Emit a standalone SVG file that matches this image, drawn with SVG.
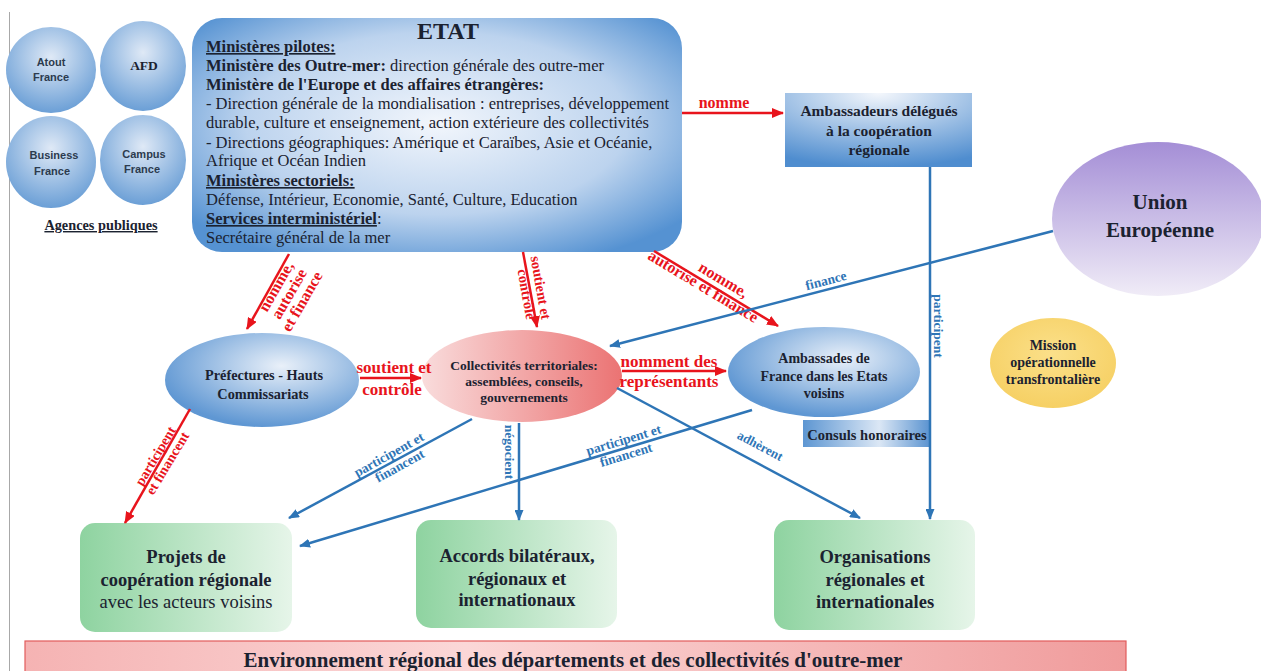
<svg xmlns="http://www.w3.org/2000/svg" width="1261" height="671" viewBox="0 0 1261 671">
<defs>
<style>
.serif{font-family:"Liberation Serif","Times New Roman",serif}
.b{font-weight:bold}
.dark{fill:#1b2230}
.sans{font-family:"Liberation Sans",Arial,sans-serif;font-weight:bold;fill:#2c3b4e;font-size:11px}
.rl{font-family:"Liberation Serif",serif;font-weight:bold;fill:#e8141c}
.bl{font-family:"Liberation Serif",serif;font-weight:bold;fill:#2e75b6}
.cr{stroke:#e8141c;stroke-width:2.5;fill:none;marker-end:url(#ar)}
.cb{stroke:#2e75b6;stroke-width:2.5;fill:none;marker-end:url(#ab)}
.mid{text-anchor:middle}
</style>
<marker id="ar" markerUnits="userSpaceOnUse" markerWidth="12" markerHeight="10" viewBox="0 0 12 10" refX="11" refY="5" orient="auto"><path d="M0,0 L12,5 L0,10 z" fill="#e8141c"/></marker>
<marker id="ab" markerUnits="userSpaceOnUse" markerWidth="11" markerHeight="9" viewBox="0 0 11 9" refX="10" refY="4.5" orient="auto"><path d="M0,0 L11,4.5 L0,9 z" fill="#2e75b6"/></marker>
<radialGradient id="gEtat" cx="50%" cy="45%" r="65%"><stop offset="0" stop-color="#f2f6fc"/><stop offset="0.6" stop-color="#bcd3ee"/><stop offset="1" stop-color="#5592d2"/></radialGradient>
<radialGradient id="gCirc" cx="50%" cy="35%" r="65%"><stop offset="0" stop-color="#dfe9f6"/><stop offset="1" stop-color="#6b9fd6"/></radialGradient>
<radialGradient id="gEll" cx="60%" cy="35%" r="65%"><stop offset="0" stop-color="#e9f0f9"/><stop offset="1" stop-color="#5f97d3"/></radialGradient>
<radialGradient id="gRect" cx="50%" cy="0%" r="100%"><stop offset="0" stop-color="#f4f7fc"/><stop offset="1" stop-color="#4f8dcf"/></radialGradient>
<linearGradient id="gCons" x1="0" y1="0" x2="1" y2="0"><stop offset="0" stop-color="#5d96d2"/><stop offset="0.6" stop-color="#dbe7f5"/><stop offset="1" stop-color="#5a93d0"/></linearGradient>
<linearGradient id="gPink" x1="0" y1="0" x2="1" y2="0"><stop offset="0" stop-color="#f9dcdc"/><stop offset="1" stop-color="#eb7373"/></linearGradient>
<linearGradient id="gUE" x1="0" y1="0" x2="0" y2="1"><stop offset="0" stop-color="#a48ed6"/><stop offset="1" stop-color="#f0ecf7"/></linearGradient>
<radialGradient id="gMis" cx="50%" cy="40%" r="60%"><stop offset="0" stop-color="#fbe08a"/><stop offset="1" stop-color="#f6d064"/></radialGradient>
<linearGradient id="gGreen" x1="0" y1="0" x2="1" y2="0"><stop offset="0" stop-color="#8ed3a0"/><stop offset="1" stop-color="#e6f5e9"/></linearGradient>
<linearGradient id="gBan" x1="0" y1="0" x2="1" y2="0"><stop offset="0" stop-color="#f5b3b3"/><stop offset="0.4" stop-color="#fbd7d7"/><stop offset="1" stop-color="#f09c9c"/></linearGradient>
</defs>
<rect width="1261" height="671" fill="#ffffff"/>
<line x1="9.5" y1="12" x2="9.5" y2="671" stroke="#a8a8a8" stroke-width="1"/>

<g id="agences">
<g id="atout"><ellipse cx="51" cy="70" rx="45" ry="43" fill="url(#gCirc)"/><text class="sans mid" x="51" y="66">Atout</text><text class="sans mid" x="51" y="81">France</text></g>
<g id="afd"><ellipse cx="143" cy="66" rx="43" ry="45" fill="url(#gCirc)"/><text class="serif b dark mid" x="144" y="70" font-size="13.5">AFD</text></g>
<g id="business"><ellipse cx="51" cy="162" rx="45" ry="46" fill="url(#gCirc)"/><text class="sans mid" x="54" y="159">Business</text><text class="sans mid" x="52" y="175">France</text></g>
<g id="campus"><ellipse cx="143" cy="160" rx="43" ry="45" fill="url(#gCirc)"/><text class="sans mid" x="144" y="158">Campus</text><text class="sans mid" x="142" y="173">France</text></g>
<text class="serif b dark mid" x="101" y="230" font-size="14.3" text-decoration="underline">Agences publiques</text>
</g>

<g id="etat">
<rect x="192" y="18" width="490" height="234" rx="30" fill="url(#gEtat)"/>
<text class="serif b dark mid" x="448" y="39" font-size="24">ETAT</text>
<g class="serif dark" font-size="16.5">
<text x="206" y="52" class="b" text-decoration="underline">Ministères pilotes:</text>
<text x="206" y="71"><tspan class="b">Ministère des Outre-mer:</tspan> direction générale des outre-mer</text>
<text x="206" y="90" class="b">Ministère de l'Europe et des affaires étrangères:</text>
<text x="206" y="109">- Direction générale de la mondialisation : entreprises, développement</text>
<text x="206" y="128">durable, culture et enseignement, action extérieure des collectivités</text>
<text x="206" y="148">- Directions géographiques: Amérique et Caraïbes, Asie et Océanie,</text>
<text x="206" y="166">Afrique et Océan Indien</text>
<text x="206" y="186" class="b" text-decoration="underline">Ministères sectoriels:</text>
<text x="206" y="205">Défense, Intérieur, Economie, Santé, Culture, Education</text>
<text x="206" y="224"><tspan class="b" text-decoration="underline">Services interministériel</tspan>:</text>
<text x="206" y="243">Secrétaire général de la mer</text>
</g>
</g>

<g id="ambassadeurs">
<rect x="785" y="93" width="187" height="74" fill="url(#gRect)"/>
<g class="serif b dark mid" font-size="15.5"><text x="879" y="116">Ambassadeurs délégués</text><text x="879" y="136">à la coopération</text><text x="879" y="155">régionale</text></g>
</g>

<g id="ue">
<ellipse cx="1158" cy="219" rx="106" ry="77" fill="url(#gUE)"/>
<g class="serif b dark mid" font-size="21"><text x="1160" y="209">Union</text><text x="1160" y="237">Européenne</text></g>
</g>

<g id="mission">
<ellipse cx="1053" cy="363" rx="63" ry="45" fill="url(#gMis)"/>
<g class="serif b dark mid" font-size="14"><text x="1053" y="350">Mission</text><text x="1053" y="367">opérationnelle</text><text x="1053" y="384">transfrontalière</text></g>
</g>

<g id="prefectures">
<ellipse cx="262" cy="380" rx="97" ry="47" fill="url(#gEll)"/>
<g class="serif b dark mid" font-size="14.3"><text x="264" y="380">Préfectures - Hauts</text><text x="263" y="399">Commissariats</text></g>
</g>

<g id="collectivites">
<ellipse cx="522" cy="376" rx="100" ry="46" fill="url(#gPink)"/>
<g class="serif b dark mid" font-size="13.5"><text x="524" y="370">Collectivités territoriales:</text><text x="524" y="386">assemblées, conseils,</text><text x="524" y="402">gouvernements</text></g>
</g>

<g id="ambassades">
<ellipse cx="824" cy="372" rx="96" ry="45" fill="url(#gEll)"/>
<g class="serif b dark mid" font-size="14"><text x="824" y="363">Ambassades  de</text><text x="824" y="381">France dans les Etats</text><text x="824" y="398">voisins</text></g>
</g>

<g id="consuls">
<rect x="803" y="420" width="127" height="27" fill="url(#gCons)"/>
<text class="serif b dark mid" x="867" y="440" font-size="14.5">Consuls honoraires</text>
</g>

<g id="projets">
<rect x="80" y="523" width="212" height="109" rx="15" fill="url(#gGreen)"/>
<g class="serif dark mid" font-size="18.5"><text class="b" x="186" y="563">Projets de</text><text class="b" x="186" y="586">coopération régionale</text><text x="186" y="608">avec les acteurs voisins</text></g>
</g>

<g id="accords">
<rect x="416" y="520" width="201" height="108" rx="15" fill="url(#gGreen)"/>
<g class="serif b dark mid" font-size="18.5"><text x="517" y="562">Accords bilatéraux,</text><text x="517" y="585">régionaux et</text><text x="517" y="606">internationaux</text></g>
</g>

<g id="organisations">
<rect x="774" y="520" width="201" height="110" rx="15" fill="url(#gGreen)"/>
<g class="serif b dark mid" font-size="18.5"><text x="875" y="563">Organisations</text><text x="875" y="586">régionales et</text><text x="875" y="608">internationales</text></g>
</g>

<g id="environnement">
<rect x="25" y="641" width="1101" height="40" fill="url(#gBan)" stroke="#e25c5c" stroke-width="1.2"/>
<text class="serif b dark mid" x="573" y="667" font-size="21">Environnement régional des départements et des collectivités d'outre-mer</text>
</g>

<g id="connectors">
<line class="cr" x1="682" y1="113" x2="783" y2="113"/>
<text class="rl mid" x="724" y="108" font-size="16">nomme</text>

<line class="cr" x1="289" y1="254" x2="247" y2="329"/>
<g transform="translate(291,295) rotate(-60)" class="rl mid" font-size="16"><text x="0" y="-12">nomme,</text><text x="0" y="3">autorise</text><text x="0" y="18">et finance</text></g>

<line class="cr" x1="523" y1="252" x2="537" y2="327"/>
<g transform="translate(533,289) rotate(80)" class="rl mid" font-size="14.5"><text x="0" y="-3">soutient et</text><text x="4" y="12">contrôle</text></g>

<line class="cr" x1="654" y1="251" x2="778" y2="326"/>
<g transform="translate(711,289) rotate(31)" class="rl mid" font-size="16"><text x="6" y="-9">nomme,</text><text x="-8" y="7">autorise et finance</text></g>

<line class="cr" x1="360" y1="378" x2="421" y2="378"/>
<text class="rl mid" x="394" y="373" font-size="17">soutient et</text>
<text class="rl mid" x="392" y="395" font-size="17">contrôle</text>

<line class="cr" x1="622" y1="371" x2="726" y2="371"/>
<text class="rl mid" x="669" y="367" font-size="17">nomment des</text>
<text class="rl mid" x="669" y="387" font-size="17">représentants</text>

<line class="cr" x1="190" y1="409" x2="125" y2="523"/>
<g transform="translate(162,460) rotate(-59)" class="rl mid" font-size="14"><text x="0" y="-3">participent</text><text x="0" y="11">et financent</text></g>

<line class="cb" x1="1053" y1="231" x2="610" y2="346"/>
<text transform="translate(826,281) rotate(-14.5)" class="bl mid" font-size="13.5" y="4">finance</text>

<line class="cb" x1="930" y1="167" x2="930" y2="519"/>
<text transform="translate(938,326) rotate(90)" class="bl mid" font-size="13.5" y="4">participent</text>

<line class="cb" x1="472" y1="419" x2="289" y2="518"/>
<g transform="translate(393,462) rotate(-29)" class="bl mid" font-size="13.5"><text x="0" y="-4">participent et</text><text x="4" y="11">financent</text></g>

<line class="cb" x1="752" y1="410" x2="300" y2="546"/>
<g transform="translate(626,448) rotate(-17)" class="bl mid" font-size="13.5"><text x="0" y="-4">participent et</text><text x="-2" y="11">financent</text></g>

<line class="cb" x1="519" y1="423" x2="519" y2="520"/>
<text transform="translate(509,452) rotate(90)" class="bl mid" font-size="13.5" y="4">négocient</text>

<line class="cb" x1="617" y1="388" x2="860" y2="518"/>
<text transform="translate(760,446) rotate(28)" class="bl mid" font-size="13" y="4">adhèrent</text>
</g>
</svg>
